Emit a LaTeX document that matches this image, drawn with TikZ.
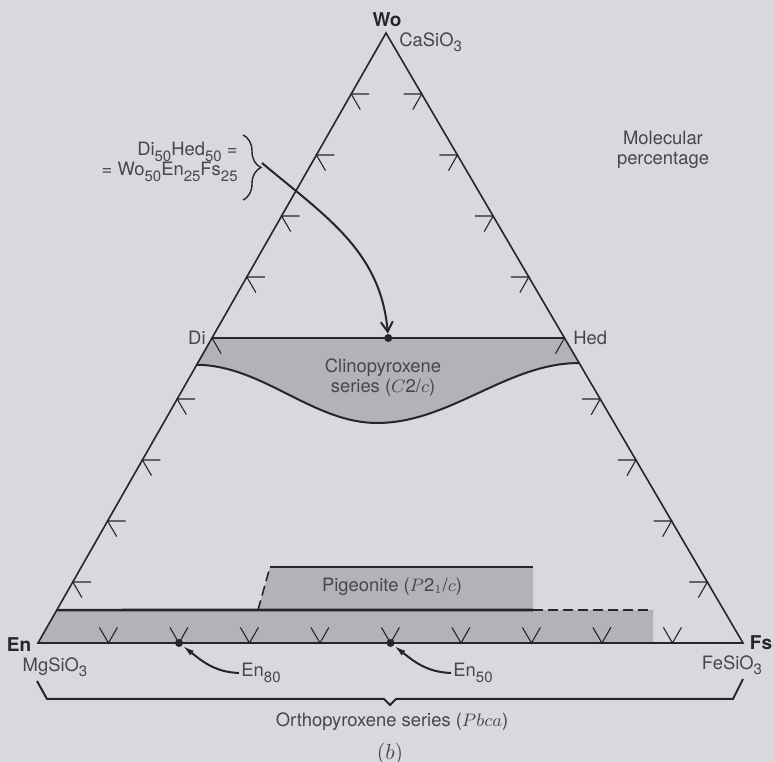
\documentclass[tikz,border=0pt]{standalone}
\usepackage{fontspec}
\setmainfont{TeX Gyre Heros}
\usepackage{tikz}
\usetikzlibrary{calc,decorations.pathreplacing,arrows.meta,math}

\definecolor{paper}{RGB}{216,217,221}
\definecolor{band}{RGB}{178,179,183}
\definecolor{ink}{RGB}{38,38,42}
\definecolor{type}{RGB}{70,70,76}

% lowered index for formulae
\newcommand{\idx}[1]{\raisebox{-0.55ex}{\fontsize{7.5}{8}\selectfont#1}}

\begin{document}
\begin{tikzpicture}[x=0.5pt, y=0.5pt,
    lbl/.style={text=type, font=\fontsize{9.2}{10}\selectfont, inner sep=1pt},
    corner/.style={text=ink, font=\fontsize{9.5}{10}\selectfont\bfseries, inner sep=1pt},
    edge/.style={draw=ink, line width=0.8pt},
    tick/.style={draw=ink, line width=0.55pt},
    limit/.style={draw=ink, line width=1.3pt},
    open/.style={draw=ink, line width=0.8pt, dash pattern=on 5pt off 2.5pt},
    dot/.style={circle, fill=ink, inner sep=0pt, minimum size=4pt},
    ]
    \tikzmath{\arm = 9;}

    \fill[paper] (0,0) rectangle (773,762);
    \useasboundingbox (0,0) rectangle (773,762);

    \coordinate (En) at (38,119);
    \coordinate (Fs) at (743,119);
    \coordinate (Wo) at (386,729);
    \coordinate (Di) at ($(En)!0.5!(Wo)$);
    \coordinate (Hed) at ($(Fs)!0.5!(Wo)$);

    % shaded fields go under the lines
    \coordinate (cpxL) at ($(En)!0.456!(Wo)$);
    \coordinate (cpxR) at ($(Fs)!0.459!(Wo)$);
    \coordinate (cpxM) at (377,339);
    \fill[band] (Di) -- (Hed) -- (cpxR) .. controls (507,399) and (450,339) .. (cpxM)
        .. controls (313,339) and (262,397) .. (cpxL) -- cycle;

    \coordinate (opxL) at ($(En)!0.054!(Wo)$);
    \coordinate (opxE) at (533,152);
    \coordinate (opxD) at (653,152);
    \coordinate (opxB) at (653,119);
    \fill[band] (En) -- (opxL) -- (opxD) -- (opxB) -- cycle;

    \coordinate (pigBL) at (258,152);
    \coordinate (pigTL) at (270,195);
    \coordinate (pigTR) at (533,195);
    \fill[band] (pigBL) -- (pigTL) -- (pigTR) -- (opxE) -- cycle;

    % triangle and 10% ticks
    \draw[edge] (En) -- (Fs) -- (Wo) -- cycle;
    \foreach \k [evaluate=\k as \t using \k/10] in {1,...,9} {
        \coordinate (L\k) at ($(En)!\t!(Wo)$);
        \coordinate (R\k) at ($(Fs)!\t!(Wo)$);
        \coordinate (B\k) at ($(En)!\t!(Fs)$);
    }
    \foreach \k [evaluate=\k as \m using int(10-\k)] in {1,...,9} {
        \draw[tick] ($(L\k)!\arm pt!(R\k)$) -- (L\k) -- ($(L\k)!\arm pt!(B\k)$);
        \draw[tick] ($(R\k)!\arm pt!(L\k)$) -- (R\k) -- ($(R\k)!\arm pt!(B\m)$);
        \draw[tick] ($(B\k)!\arm pt!(L\k)$) -- (B\k) -- ($(B\k)!\arm pt!(R\m)$);
    }

    % clinopyroxene
    \draw[limit] (Di) -- (Hed);
    \draw[ink, line width=1pt] (cpxL) .. controls (262,397) and (313,339) .. (cpxM)
        .. controls (450,339) and (507,399) .. (cpxR);
    \node[lbl, align=center] (cpx) at (383,384) {Clinopyroxene\\series ($C$2/$c$)};

    % pigeonite and orthopyroxene
    \draw[limit] (opxL) -- (opxE);
    \draw[open] (opxE) -- (opxD);
    \draw[limit] (pigTL) -- (pigTR);
    \draw[open] (pigBL) -- (pigTL);
    \node[lbl] (pig) at (392,175) {Pigeonite ($P$2$_1$/$c$)};

    % end members
    \node[corner] (woL) at (387,742) {Wo};
    \node[lbl, anchor=west] (casio) at (397,720) {CaSiO\idx{3}};
    \node[corner] (enL) at (19,117) {En};
    \node[lbl] (mgsio) at (55,95) {MgSiO\idx{3}};
    \node[corner] (fsL) at (761,119) {Fs};
    \node[lbl] (fesio) at (732,97) {FeSiO\idx{3}};
    \node[lbl, anchor=east] (diL) at (208,424) {Di};
    \node[lbl, anchor=west] (hedL) at (571,424) {Hed};
    \node[lbl, align=center] (molec) at (663,612) {Molecular\\percentage};

    % compositions marked on the diagram
    \node[dot] (pDH) at ($(Di)!0.5!(Hed)$) {};
    \node[dot] (p80) at (B2) {};
    \node[dot] (p50) at (B5) {};

    \node[lbl, align=right, anchor=east] (dihed) at (240,600)
        {Di\idx{50}Hed\idx{50} =\\= Wo\idx{50}En\idx{25}Fs\idx{25}};
    \draw[ink, line width=0.7pt, decorate, decoration={brace, amplitude=9pt}]
        (243,627) -- (243,562);
    \coordinate (braceTip) at (262,599);
    \draw[ink, line width=1pt, -{Straight Barb[length=5pt,width=6pt]}]
        (braceTip) to[out=-40, in=95] (pDH);

    \node[lbl] (en80) at (261,89) {En\idx{80}};
    \node[lbl] (en50) at (473,89) {En\idx{50}};
    \draw[ink, line width=1pt, -{Latex[length=6pt,width=3pt]}]
        (en80.west) to[out=178, in=-38] (p80);
    \draw[ink, line width=1pt, -{Latex[length=6pt,width=3pt]}]
        (en50.west) to[out=178, in=-38] (p50);

    % orthopyroxene range
    \draw[ink, line width=1pt] (37,81) -- (47,63) -- (384,63) -- (390,57)
        -- (396,63) -- (733,63) -- (743,83);
    \node[lbl] (opx) at (392,40) {Orthopyroxene series ($Pbca$)};
    \node[lbl, font=\fontsize{10.5}{11}\selectfont] (part) at (390,8) {$(b)$};
\end{tikzpicture}
\end{document}
